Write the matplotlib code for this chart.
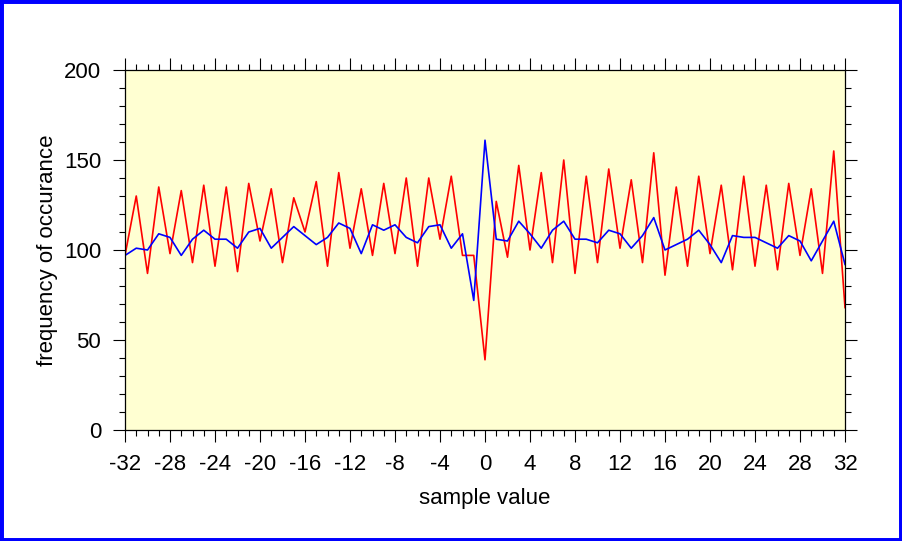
import matplotlib
matplotlib.use('Agg')
from matplotlib import pyplot as plt
from matplotlib.patches import Rectangle
import numpy as np

sample = list(range(-32, 33))

red_freq = [97, 130, 87, 135, 98, 133, 93, 136, 91, 135, 88, 137, 105, 134, 93, 129,
            110, 138, 91, 143, 101, 134, 97, 137, 98, 140, 91, 140, 106, 141, 97, 97,
            39, 127, 96, 147, 100, 143, 93, 150, 87, 141, 93, 145, 101, 139, 93, 154,
            86, 135, 91, 141, 98, 136, 89, 141, 91, 136, 89, 137, 97, 134, 87, 155, 68]

blue_freq = [97, 101, 100, 109, 107, 97, 106, 111, 106, 106, 101, 110, 112, 101, 107, 113,
             108, 103, 107, 115, 112, 98, 114, 111, 114, 107, 104, 113, 114, 101, 109, 72,
             161, 106, 105, 116, 109, 101, 111, 116, 106, 106, 104, 111, 109, 101, 108, 118,
             100, 103, 106, 111, 103, 93, 108, 107, 107, 104, 101, 108, 105, 94, 105, 116, 92]

plt.rcParams['font.family'] = ['Liberation Sans', 'DejaVu Sans']
plt.rcParams['axes.unicode_minus'] = False

fig = plt.figure(figsize=(9.02, 5.41), dpi=100, facecolor='white')
ax = fig.add_axes([125/902, 1-430/541, 720/902, 360/541])
ax.set_facecolor('#FFFFD2')

ax.plot(sample, red_freq, color='#FF0000', lw=1.2)
ax.plot(sample, blue_freq, color='#0000FF', lw=1.2)

ax.set_xlim(-32, 32)
ax.set_ylim(0, 200)
ax.set_xticks(range(-32, 33, 4))
ax.set_xticks(range(-32, 33, 1), minor=True)
ax.set_yticks(range(0, 201, 50))
ax.set_yticks(range(0, 201, 10), minor=True)

ax.tick_params(which='both', direction='out', top=True, right=True,
               labeltop=False, labelright=False, color='black', width=0.8)
ax.tick_params(which='major', length=8.6, labelsize=16)
ax.tick_params(axis='x', which='major', pad=9)
ax.tick_params(axis='y', which='major', pad=8.5)
ax.tick_params(which='minor', length=4.3)
for s in ax.spines.values():
    s.set_linewidth(0.9)

ax.set_xlabel('sample value', fontsize=16, labelpad=9)
ax.set_ylabel('frequency of occurance', fontsize=16, labelpad=4)

fig.patches.append(Rectangle((0, 0), 1, 1, transform=fig.transFigure, fill=False,
                             edgecolor='#0000FF', linewidth=5, zorder=10))

fig.savefig('out.png', dpi=100)
